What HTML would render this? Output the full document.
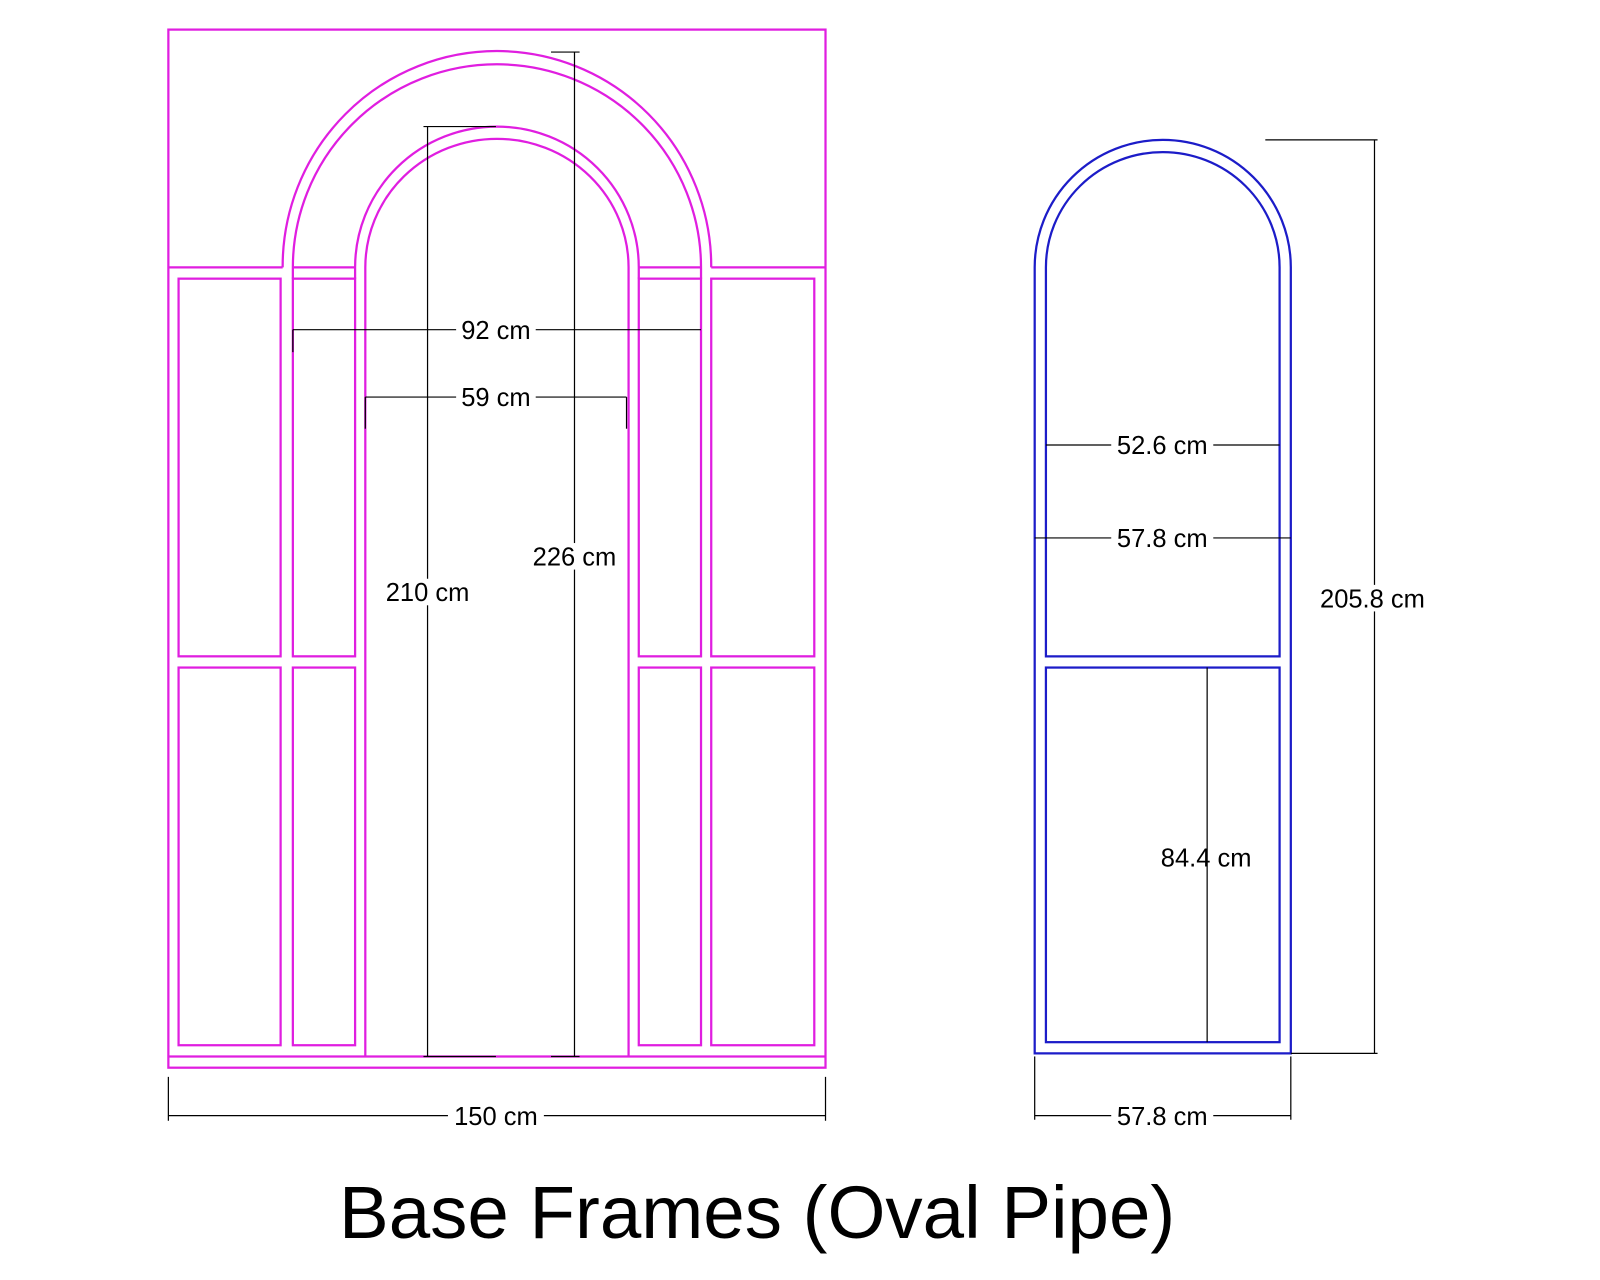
<!DOCTYPE html>
<html><head><style>html,body{margin:0;padding:0;background:#fff}svg{display:block}</style></head>
<body>
<svg width="1600" height="1280" viewBox="0 0 1568 1254" preserveAspectRatio="none" xmlns="http://www.w3.org/2000/svg">
<rect width="1568" height="1254" fill="#fff"/>
<g fill="none" stroke="#e01ee0" stroke-width="2.2">
<rect x="165" y="29" width="644" height="1017"/>
<line x1="165" y1="1035" x2="809" y2="1035"/>
<line x1="165" y1="262" x2="277" y2="262"/>
<line x1="697" y1="262" x2="809" y2="262"/>
<line x1="287" y1="262" x2="348" y2="262"/>
<line x1="626" y1="262" x2="687" y2="262"/>
<path d="M277 262 L277 261 A210 211 0 0 1 697 261 L697 262"/>
<path d="M287 273 L287 262 A200 199 0 0 1 687 262 L687 273"/>
<path d="M348 273 L348 262 A139 138 0 0 1 626 262 L626 273"/>
<path d="M358 1035 L358 262 A129 126 0 0 1 616 262 L616 1035"/>
<rect x="175" y="273" width="100" height="370"/>
<rect x="287" y="273" width="61" height="370"/>
<rect x="626" y="273" width="61" height="370"/>
<rect x="697" y="273" width="101" height="370"/>
<rect x="175" y="654" width="100" height="370"/>
<rect x="287" y="654" width="61" height="370"/>
<rect x="626" y="654" width="61" height="370"/>
<rect x="697" y="654" width="101" height="370"/>
</g>
<g fill="none" stroke="#1c1cc8" stroke-width="2.2">
<path d="M1014 1032 L1014 262 A125.5 125 0 0 1 1265 262 L1265 1032 Z"/>
<path d="M1025 643 L1025 262 A114.5 113 0 0 1 1254 262 L1254 643 Z"/>
<rect x="1025" y="654" width="229" height="367"/>
</g>
<g stroke="#000" stroke-width="1.2" fill="none">
<line x1="287" y1="323" x2="687" y2="323"/><line x1="287" y1="323" x2="287" y2="345"/>
<line x1="358" y1="389" x2="614" y2="389"/><line x1="358" y1="389" x2="358" y2="420"/><line x1="614" y1="389" x2="614" y2="420"/>
<line x1="419" y1="124" x2="419" y2="1035"/><line x1="415" y1="124" x2="486" y2="124"/><line x1="415" y1="1035" x2="486" y2="1035"/>
<line x1="563" y1="51" x2="563" y2="1035"/><line x1="540" y1="51" x2="568" y2="51"/><line x1="540" y1="1035" x2="568" y2="1035"/>
<line x1="165" y1="1093" x2="809" y2="1093"/><line x1="165" y1="1055" x2="165" y2="1098"/><line x1="809" y1="1055" x2="809" y2="1098"/>
<line x1="1025" y1="436" x2="1254" y2="436"/>
<line x1="1014" y1="527" x2="1265" y2="527"/>
<line x1="1183" y1="654" x2="1183" y2="1021"/>
<line x1="1347" y1="137" x2="1347" y2="1032"/><line x1="1240" y1="137" x2="1350" y2="137"/><line x1="1265" y1="1032" x2="1350" y2="1032"/>
<line x1="1014" y1="1093" x2="1265" y2="1093"/><line x1="1014" y1="1035" x2="1014" y2="1097"/><line x1="1265" y1="1035" x2="1265" y2="1097"/>
</g>
<g font-family="Liberation Sans, Arial, sans-serif" font-size="25" fill="#000" text-anchor="middle">
<rect x="447" y="310" width="78" height="26" fill="#fff"/><text x="486" y="332">92 cm</text>
<rect x="447" y="376" width="78" height="26" fill="#fff"/><text x="486" y="398">59 cm</text>
<rect x="372" y="567" width="94" height="26" fill="#fff"/><text x="419" y="589">210 cm</text>
<rect x="516" y="532" width="94" height="26" fill="#fff"/><text x="563" y="554">226 cm</text>
<rect x="439" y="1080" width="94" height="26" fill="#fff"/><text x="486" y="1102">150 cm</text>
<rect x="1089" y="423" width="100" height="26" fill="#fff"/><text x="1139" y="445">52.6 cm</text>
<rect x="1089" y="514" width="100" height="26" fill="#fff"/><text x="1139" y="536">57.8 cm</text>
<rect x="1288" y="573" width="114" height="26" fill="#fff"/><text x="1345" y="595">205.8 cm</text>
<text x="1182" y="849">84.4 cm</text>
<rect x="1089" y="1080" width="100" height="26" fill="#fff"/><text x="1139" y="1102">57.8 cm</text>
<text x="742" y="1213" font-size="73">Base Frames (Oval Pipe)</text>
</g>
</svg>
</body></html>
